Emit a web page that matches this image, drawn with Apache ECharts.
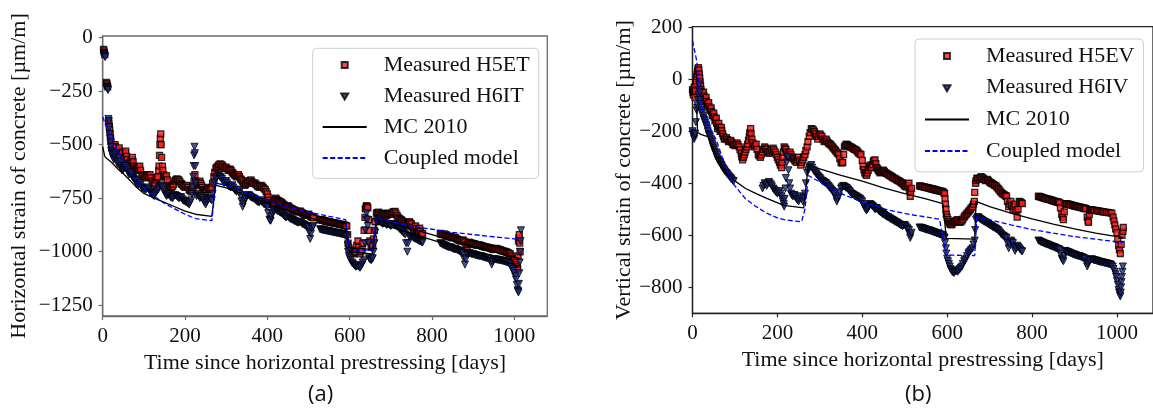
<!DOCTYPE html>
<html><head><meta charset="utf-8">
<script src="https://cdn.jsdelivr.net/npm/echarts@6/dist/echarts.min.js"></script>
<style>html,body{margin:0;padding:0;background:#fff}#c{width:1153px;height:416px}</style>
</head><body><div id="c"></div>
<script>
// ---------- (a) horizontal strain ----------
const xTicksA = [0, 200, 400, 600, 800, 1000];
const yTicksA = [-1250, -1000, -750, -500, -250, 0];
const h5et = [[2,-55],[3,-62],[4,-70],[5,-80],[9,-210],[10,-215],[11,-222],[12,-230],
[14,-390],[15,-400],[16,-415],[17,-430],[18,-450],[19,-470],[20,-485],[21,-500],[22,-510],[23,-505],[24,-520],[25,-530],[27,-540],[28,-525],[30,-500],[31,-510],[33,-530],[34,-545],[36,-560],[37,-545],[39,-525],[40,-515],[42,-540],[44,-560],[45,-550],[47,-535],[48,-540],[50,-565],[52,-580],[53,-560],[55,-540],[56,-530],[58,-555],[60,-570],[62,-590],[64,-600],[66,-585],[68,-580],[70,-570],[72,-560],[74,-580],[76,-600],[78,-610],[80,-620],[82,-615],[85,-610],[87,-605],[90,-600],[92,-620],[95,-640],[97,-645],[100,-645],[102,-655],[105,-650],[107,-640],[110,-645],[112,-650],[115,-640],[117,-655],[120,-670],[122,-680],[125,-690],[127,-680],[130,-665],[132,-655],[134,-650],[136,-620],[137,-600],[138,-550],[139,-500],[140,-470],[141,-450],[142,-500],[143,-560],[145,-600],[146,-620],[148,-640],[150,-650],[152,-650],[155,-645],[157,-665],[160,-690],[162,-695],[165,-700],[167,-700],[170,-695],[172,-685],[175,-670],[177,-665],[180,-660],[182,-662],[185,-665],[187,-672],[190,-680],[192,-685],[195,-690],[197,-695],[200,-700],[202,-695],[205,-690],[207,-700],[210,-710],[212,-715],[215,-720],[217,-710],[220,-700],[222,-670],[224,-640],[226,-670],[228,-690],[230,-685],[232,-680],[234,-675],[236,-670],[238,-680],[240,-690],[242,-700],[245,-710],[247,-715],[250,-720],[252,-710],[255,-700],[257,-705],[260,-710],[262,-705],[265,-700],[267,-680],[270,-650],[272,-630],[275,-610],[277,-605],[280,-600],[282,-595],[285,-590],[287,-592],[290,-595],[292,-602],[295,-610],[297,-608],[300,-605],[302,-612],[305,-620],[307,-618],[310,-615],[312,-622],[315,-630],[317,-635],[320,-640],[322,-645],[325,-650],[327,-645],[330,-640],[332,-650],[335,-660],[337,-665],[340,-670],[342,-680],[345,-690],[347,-685],[350,-680],[352,-675],[355,-670],[357,-668],[360,-665],[362,-672],[365,-680],[367,-680],[370,-680],[372,-685],[375,-690],[377,-695],[380,-700],[382,-695],[385,-690],[387,-695],[390,-700],[392,-705],[395,-710],[397,-720],[400,-730],[402,-745],[405,-760],[407,-770],[410,-780],[412,-775],[415,-770],[417,-760],[420,-750],[422,-755],[425,-760],[427,-762],[430,-765],[432,-768],[435,-770],[437,-775],[440,-780],[442,-785],[445,-790],[447,-788],[450,-785],[452,-790],[455,-795],[457,-798],[460,-800],[462,-803],[465,-805],[467,-808],[470,-810],[472,-812],[475,-815],[477,-812],[480,-810],[482,-815],[485,-820],[487,-822],[490,-825],[492,-828],[495,-830],[497,-828],[500,-825],[502,-830],[505,-835],[507,-838],[510,-840],[512,-842],
[528,-850],[530,-851],[533,-852],[535,-853],[538,-855],[540,-856],[543,-858],[545,-859],[548,-860],[550,-861],[553,-862],[555,-863],[558,-864],[560,-865],[563,-866],[565,-867],[568,-868],[570,-869],[573,-870],[575,-871],[578,-872],[580,-873],[583,-874],[585,-875],[588,-876],[590,-878],[593,-880],[595,-920],[596,-960],[598,-980],[600,-990],[602,-995],[605,-1000],[607,-1005],[610,-1010],[612,-1005],[615,-1000],[617,-970],[620,-950],[622,-980],[625,-1010],[627,-1000],[630,-990],[632,-960],[635,-900],[637,-840],[638,-800],[640,-790],[641,-785],[643,-790],[644,-795],[646,-850],[647,-900],[649,-950],[652,-980],[654,-975],[656,-970],[658,-940],[660,-900],[662,-860],[665,-820],[667,-818],[670,-815],[672,-822],[675,-830],[677,-825],[680,-820],[682,-822],[685,-825],[687,-828],[690,-830],[692,-825],[695,-820],[697,-822],[700,-825],[702,-820],[705,-815],[707,-813],[710,-812],[712,-820],[715,-830],[717,-838],[720,-845],[722,-848],[725,-850],[727,-855],[730,-860],[732,-865],[735,-870],[737,-875],[740,-880],[742,-870],[745,-860],[747,-865],[750,-870],[752,-885],[755,-900],[757,-890],[760,-880],[762,-892],[765,-905],[767,-898],[770,-890],[772,-905],[775,-920],[777,-915],
[820,-915],[822,-918],[825,-920],[827,-919],[830,-918],[832,-922],[835,-925],[837,-927],[840,-928],[842,-929],[845,-930],[847,-933],[850,-935],[852,-934],[855,-932],[857,-936],[860,-940],[862,-943],[865,-945],[867,-948],[870,-950],[872,-948],[875,-945],[877,-950],[880,-955],[882,-968],[885,-980],[887,-965],[890,-955],[892,-958],[895,-960],[897,-961],[900,-962],[902,-964],[905,-965],[907,-968],[910,-970],[912,-969],[915,-968],[917,-970],[920,-972],[922,-974],[925,-975],[927,-977],[930,-978],[932,-979],[935,-980],[937,-981],[940,-982],[942,-984],[945,-985],[947,-988],[950,-990],[952,-988],[955,-985],[957,-987],[960,-988],[962,-989],[965,-990],[967,-993],[970,-995],[972,-997],[975,-998],[977,-999],[980,-1000],[982,-1003],[985,-1005],[987,-1008],[990,-1010],[992,-1020],[995,-1030],[997,-1035],[1000,-1040],[1002,-1050],[1005,-1060],[1007,-1070],[1008,-1080],[1009,-1020],[1010,-950],[1011,-935],[1012,-920],[1013,-960],[1014,-1000]];
const h6it = [[3,-75],[4,-80],[5,-85],[6,-92],[10,-232],[11,-235],[12,-240],[13,-245],
[14,-380],[15,-390],[16,-420],[17,-450],[18,-470],[19,-490],[20,-510],[21,-530],[22,-540],[23,-545],[24,-550],[25,-560],[27,-570],[28,-555],[30,-540],[31,-550],[33,-560],[34,-575],[36,-590],[37,-580],[39,-565],[40,-560],[42,-580],[44,-600],[45,-610],[47,-620],[48,-620],[50,-615],[52,-610],[53,-605],[55,-600],[56,-600],[58,-610],[60,-620],[62,-630],[64,-640],[66,-635],[68,-630],[70,-640],[72,-650],[74,-655],[76,-660],[78,-665],[80,-670],[82,-680],[85,-690],[87,-685],[90,-680],[92,-690],[95,-700],[97,-702],[100,-705],[102,-708],[105,-710],[107,-705],[110,-700],[112,-710],[115,-720],[117,-725],[120,-730],[122,-735],[125,-740],[127,-730],[130,-720],[132,-715],[135,-710],[137,-700],[140,-690],[142,-695],[145,-700],[147,-710],[150,-720],[152,-730],[155,-740],[157,-735],[160,-730],[162,-738],[165,-745],[167,-748],[170,-750],[172,-742],[175,-735],[177,-738],[180,-740],[182,-745],[185,-750],[187,-748],[190,-745],[192,-752],[195,-760],[197,-762],[200,-765],[202,-768],[205,-770],[207,-775],[210,-780],[212,-770],[215,-760],[217,-730],[218,-700],[220,-650],[221,-600],[222,-550],[223,-510],[224,-540],[225,-600],[226,-680],[228,-740],[230,-735],[232,-730],[234,-740],[236,-750],[238,-745],[240,-740],[242,-750],[245,-760],[247,-770],[250,-780],[252,-770],[255,-760],[257,-755],[260,-750],[262,-755],[265,-760],[267,-730],[270,-690],[272,-675],[275,-660],[277,-650],[280,-640],[282,-645],[285,-650],[287,-655],[290,-660],[292,-670],[295,-680],[297,-675],[300,-670],[302,-680],[305,-690],[307,-695],[310,-700],[312,-695],[315,-690],[317,-700],[320,-710],[322,-715],[325,-720],[327,-715],[330,-710],[332,-725],[335,-740],[337,-765],[340,-790],[342,-775],[345,-760],[347,-750],[350,-740],[352,-738],[355,-735],[357,-740],[360,-745],[362,-748],[365,-750],[367,-752],[370,-755],[372,-760],[375,-765],[377,-768],[380,-770],[382,-765],[385,-760],[387,-768],[390,-775],[392,-778],[395,-780],[397,-785],[400,-790],[402,-820],[405,-850],[407,-855],[408,-855],[410,-835],[412,-820],[415,-810],[417,-805],[420,-800],[422,-805],[425,-810],[427,-812],[430,-815],[432,-818],[435,-820],[437,-825],[440,-830],[442,-835],[445,-840],[447,-838],[450,-835],[452,-840],[455,-845],[457,-848],[460,-850],[462,-852],[465,-855],[467,-858],[470,-860],[472,-862],[475,-865],[477,-862],[480,-860],[482,-865],[485,-870],[487,-872],[490,-875],[492,-878],[495,-880],[497,-882],[500,-885],[502,-910],[504,-940],[506,-915],[508,-890],[510,-885],[512,-880],
[528,-895],[530,-896],[533,-898],[535,-899],[538,-900],[540,-901],[543,-902],[545,-903],[548,-904],[550,-905],[553,-906],[555,-907],[558,-908],[560,-909],[563,-910],[565,-911],[568,-912],[570,-913],[573,-914],[575,-915],[578,-916],[580,-917],[583,-918],[585,-919],[588,-920],[590,-925],[593,-930],[595,-970],[596,-1000],[598,-1020],[600,-1030],[602,-1040],[605,-1050],[607,-1055],[610,-1060],[612,-1065],[615,-1070],[617,-1068],[620,-1065],[622,-1070],[625,-1075],[627,-1068],[630,-1060],[632,-1050],[635,-1040],[637,-960],[638,-900],[640,-850],[641,-820],[643,-850],[644,-880],[646,-960],[647,-1030],[649,-1035],[652,-1040],[654,-1035],[656,-1030],[658,-1000],[660,-960],[662,-910],[665,-860],[667,-855],[670,-850],[672,-855],[675,-860],[677,-865],[680,-870],[682,-868],[685,-865],[687,-870],[690,-875],[692,-872],[695,-870],[697,-875],[700,-880],[702,-875],[705,-870],[707,-872],[710,-875],[712,-878],[715,-880],[717,-885],[720,-890],[722,-895],[725,-900],[727,-905],[730,-910],[732,-915],[735,-920],[737,-960],[740,-1000],[742,-960],[745,-930],[747,-928],[750,-925],[752,-930],[755,-935],[757,-938],[760,-940],[762,-942],[765,-945],[767,-948],[770,-950],[772,-952],[775,-955],[777,-957],
[820,-960],[822,-962],[825,-965],[827,-968],[830,-970],[832,-972],[835,-975],[837,-977],[840,-978],[842,-979],[845,-980],[847,-982],[850,-985],[852,-987],[855,-988],[857,-989],[860,-990],[862,-992],[865,-995],[867,-998],[870,-1000],[872,-1002],[875,-1005],[877,-1030],[880,-1060],[882,-1035],[885,-1010],[887,-1008],[890,-1005],[892,-1008],[895,-1010],[897,-1011],[900,-1012],[902,-1013],[905,-1015],[907,-1017],[910,-1018],[912,-1019],[915,-1020],[917,-1021],[920,-1022],[922,-1023],[925,-1025],[927,-1027],[930,-1028],[932,-1029],[935,-1030],[937,-1031],[940,-1032],[942,-1045],[945,-1060],[947,-1045],[950,-1035],[952,-1035],[955,-1036],[957,-1037],[960,-1038],[962,-1039],[965,-1040],[967,-1041],[970,-1042],[972,-1043],[975,-1045],[977,-1046],[980,-1048],[982,-1049],[985,-1050],[987,-1055],[990,-1060],[992,-1070],[995,-1080],[997,-1090],[1000,-1100],[1002,-1115],[1004,-1130],[1006,-1155],[1008,-1180],[1009,-1185],[1010,-1190],[1011,-1150],[1012,-1100],[1013,-1050],[1014,-1000],[1015,-950],[1016,-900]];
const mcA1 = [[0,-510],[5,-555],[10,-565],[20,-580],[30,-600],[40,-620],[50,-635],[60,-655],[70,-675],[80,-695],[90,-712],[100,-728],[125,-750],[150,-770],[175,-790],[200,-810],[225,-825],[265,-835],[275,-680],[300,-690],[350,-725],[400,-760],[450,-790],[500,-820],[550,-848],[590,-870],[600,-980],[655,-990],[665,-850],[700,-865],[750,-893],[800,-920],[850,-948],[900,-975],[950,-1000],[1000,-1025],[1012,-1030]];
const mcA2 = [[275,-690],[300,-702],[350,-740],[400,-775],[450,-808],[500,-840],[550,-870],[590,-895],[600,-1000],[655,-1010],[665,-870],[700,-885],[750,-915],[800,-945],[850,-975],[900,-1005],[950,-1033],[1000,-1060],[1012,-1075]];
const cpA = [[0,-370],[5,-400],[10,-420],[20,-460],[30,-500],[40,-540],[50,-580],[60,-610],[70,-640],[80,-665],[90,-688],[100,-705],[125,-740],[150,-775],[175,-800],[200,-825],[225,-845],[265,-855],[275,-680],[300,-690],[350,-725],[400,-760],[450,-790],[500,-815],[550,-835],[590,-850],[600,-990],[655,-995],[665,-845],[700,-860],[750,-880],[800,-895],[850,-910],[900,-920],[950,-930],[1000,-940],[1010,-942]];

// ---------- (b) vertical strain ----------
const xTicksB = [0, 200, 400, 600, 800, 1000];
const yTicksB = [-800, -600, -400, -200, 0, 200];
const h5ev = [[0,-40],[1,-50],[2,-60],[3,-45],[4,-30],[5,-50],[6,-70],[7,-45],[8,-20],[9,-5],[10,10],[11,20],[12,30],[13,40],[14,45],[15,35],[16,20],[17,5],[18,-10],[19,-25],[20,-40],[21,-50],[23,-60],[24,-55],[26,-50],[27,-65],[29,-80],[30,-75],[32,-70],[33,-85],[35,-100],[36,-95],[38,-90],[39,-105],[41,-120],[42,-115],[44,-110],[45,-125],[47,-140],[48,-135],[50,-130],[51,-145],[53,-160],[54,-155],[56,-150],[57,-170],[59,-190],[60,-180],[62,-170],[63,-185],[65,-200],[66,-192],[68,-185],[69,-198],[71,-210],[73,-220],[75,-230],[77,-228],[80,-225],[82,-232],[85,-240],[87,-238],[90,-235],[92,-242],[95,-250],[97,-252],[100,-255],[102,-250],[105,-245],[107,-252],[110,-260],[112,-272],[115,-285],[116,-298],[118,-310],[120,-300],[122,-290],[124,-280],[126,-270],[128,-260],[130,-250],[132,-235],[134,-220],[135,-205],[137,-190],[138,-210],[140,-230],[142,-245],[145,-260],[147,-255],[150,-250],[152,-270],[155,-290],[157,-295],[160,-300],[162,-290],[165,-280],[167,-270],[170,-260],[172,-265],[175,-270],[177,-278],[180,-285],[182,-280],[185,-275],[187,-270],[190,-265],[192,-272],[195,-280],[197,-290],[200,-300],[202,-310],[205,-320],[207,-330],[210,-340],[211,-320],[213,-300],[214,-280],[216,-260],[218,-265],[220,-270],[222,-280],[225,-290],[227,-285],[230,-280],[232,-290],[235,-300],[237,-305],[240,-310],[242,-315],[245,-320],[247,-310],[250,-300],[252,-315],[255,-330],[257,-320],[260,-310],[262,-300],[265,-290],[267,-275],[270,-260],[272,-240],[275,-220],[277,-205],[280,-190],[282,-192],[285,-195],[287,-202],[290,-210],[292,-220],[295,-230],[297,-220],[300,-210],[302,-215],[305,-220],[307,-230],[310,-240],[312,-235],[315,-230],[317,-238],[320,-245],[322,-248],[325,-250],[327,-255],[330,-260],[332,-265],[335,-270],[337,-275],[340,-280],[342,-285],[345,-290],[347,-305],[350,-320],[352,-322],[354,-320],[356,-290],[358,-260],[360,-255],[362,-250],[365,-252],[367,-255],[370,-258],[372,-260],[375,-262],[377,-265],[380,-268],[382,-270],[385,-272],[387,-275],[390,-280],[392,-285],[395,-288],[397,-290],[400,-312],[402,-335],[404,-348],[406,-360],[408,-365],[410,-370],[412,-360],[414,-350],[416,-340],[418,-330],[420,-335],[422,-340],[424,-328],[426,-315],[428,-312],[430,-310],[432,-325],[434,-340],[436,-345],[438,-350],[440,-355],[442,-360],[444,-358],[446,-355],[448,-352],[450,-350],[452,-355],[455,-360],[457,-362],[460,-365],[462,-368],[465,-370],[467,-372],[470,-375],[472,-378],[475,-380],[477,-382],[480,-385],[482,-388],[485,-390],[487,-392],[490,-395],[492,-398],[495,-400],[497,-405],[500,-410],[502,-412],[505,-415],[507,-408],[510,-400],[511,-425],[513,-450],[514,-435],[516,-420],
[535,-410],[537,-411],[540,-412],[542,-413],[545,-414],[547,-415],[550,-416],[552,-417],[555,-418],[557,-419],[560,-420],[562,-421],[565,-422],[567,-423],[570,-424],[572,-425],[575,-426],[577,-427],[580,-428],[582,-429],[585,-430],[587,-431],[590,-432],[592,-436],[594,-440],[595,-460],[596,-480],[597,-500],[598,-520],[600,-530],[602,-540],[604,-548],[606,-555],[608,-558],[610,-560],[612,-556],[615,-550],[617,-548],[620,-545],[622,-542],[625,-540],[627,-545],[630,-550],[632,-548],[635,-545],[637,-538],[640,-530],[642,-525],[645,-520],[647,-515],[650,-510],[652,-505],[655,-500],[657,-495],[660,-490],[662,-480],[664,-470],[665,-435],[667,-400],[668,-390],[670,-380],[672,-382],[675,-385],[677,-380],[680,-375],[682,-378],[685,-380],[687,-385],[690,-390],[692,-388],[695,-385],[697,-390],[700,-395],[702,-398],[705,-400],[707,-402],[710,-405],[712,-408],[715,-410],[717,-415],[720,-420],[722,-425],[725,-430],[727,-435],[730,-440],[732,-442],[735,-445],[737,-448],[740,-450],[742,-470],[745,-490],[747,-480],[750,-470],[752,-485],[755,-500],[757,-490],[760,-480],[762,-505],[765,-530],[767,-500],[770,-470],[772,-472],[775,-475],[777,-478],
[815,-450],[817,-451],[820,-452],[822,-453],[825,-455],[827,-456],[830,-458],[832,-459],[835,-460],[837,-461],[840,-462],[842,-463],[845,-465],[847,-466],[850,-468],[852,-469],[855,-470],[857,-471],[860,-472],[862,-473],[865,-475],[867,-495],[870,-520],[872,-530],[874,-540],[876,-510],[878,-478],[880,-479],[882,-479],[885,-480],[887,-481],[890,-482],[892,-483],[895,-485],[897,-486],[900,-487],[902,-488],[905,-489],[907,-490],[910,-491],[912,-492],[915,-493],[917,-494],[920,-495],[922,-496],[925,-497],[927,-498],[930,-530],[932,-545],[933,-550],[935,-520],[936,-501],[938,-502],[940,-503],[942,-503],[945,-504],[948,-504],[952,-505],[955,-506],[958,-507],[962,-508],[965,-509],[968,-510],[972,-511],[976,-512],[980,-513],[984,-514],[988,-515],[991,-530],[993,-545],[995,-560],[997,-575],[1000,-590],[1002,-615],[1004,-640],[1006,-655],[1008,-670],[1010,-635],[1012,-600],[1014,-585],[1015,-570]];
const h6iv = [[0,-200],[1,-208],[2,-215],[3,-222],[4,-230],[5,-220],[6,-210],[8,-165],[10,-120],[11,-110],[12,-100],[13,-80],[14,-60],[15,-40],[16,-20],[17,-50],[18,-80],[19,-95],[20,-110],[21,-120],[23,-130],[24,-140],[26,-150],[27,-155],[29,-160],[30,-168],[32,-175],[33,-182],[35,-190],[36,-200],[38,-210],[39,-215],[41,-220],[42,-228],[44,-235],[45,-242],[47,-250],[48,-258],[50,-265],[51,-272],[53,-280],[54,-285],[56,-290],[57,-298],[59,-305],[60,-310],[62,-315],[63,-318],[65,-320],[66,-325],[68,-330],[69,-335],[71,-340],[73,-345],[75,-350],[77,-355],[80,-360],[82,-365],[85,-370],[87,-375],[90,-380],[92,-385],[95,-390],[97,-392],
[165,-420],[167,-410],[170,-400],[172,-405],[175,-410],[177,-402],[180,-395],[182,-400],[185,-405],[187,-412],[190,-420],[192,-425],[195,-430],[197,-435],[200,-440],[202,-435],[205,-430],[207,-440],[210,-450],[212,-460],[213,-470],[215,-480],[216,-490],[217,-460],[219,-420],[220,-380],[222,-320],[223,-300],[225,-300],[226,-350],[228,-400],[230,-420],[232,-440],[234,-445],[236,-450],[238,-448],[240,-445],[242,-452],[245,-460],[247,-465],[250,-470],[252,-460],[255,-450],[257,-460],[260,-470],[262,-455],[265,-440],[267,-400],[270,-360],[272,-350],[275,-340],[277,-335],[280,-330],[282,-340],[285,-350],[287,-355],[290,-360],[292,-365],[295,-370],[297,-375],[300,-380],[302,-385],[305,-390],[307,-392],[310,-395],[312,-398],[315,-400],[317,-405],[320,-410],[322,-415],[325,-420],[327,-425],[330,-430],[332,-435],[335,-440],[337,-455],[340,-470],[342,-460],[345,-450],[347,-435],[350,-420],[352,-415],[355,-410],[357,-412],[360,-415],[362,-418],[365,-420],[367,-425],[370,-430],[372,-435],[375,-440],[377,-442],[380,-445],[382,-448],[385,-450],[387,-452],[390,-455],[392,-458],[395,-460],[397,-465],[400,-470],[402,-480],[405,-490],[407,-498],[410,-505],[412,-500],[414,-495],[416,-488],[418,-480],[420,-482],[422,-485],[424,-488],[426,-490],[428,-495],[430,-500],[432,-498],[434,-495],[436,-500],[438,-505],[440,-508],[442,-510],[444,-512],[446,-515],[448,-518],[450,-520],[452,-522],[455,-525],[457,-528],[460,-530],[462,-532],[465,-535],[467,-538],[470,-540],[472,-542],[475,-545],[477,-548],[480,-550],[482,-552],[485,-555],[487,-558],[490,-560],[492,-562],[495,-565],[497,-562],[500,-560],[502,-565],[505,-570],[507,-575],[510,-580],[511,-595],[513,-610],[514,-600],[516,-590],
[535,-570],[537,-571],[540,-572],[542,-573],[545,-575],[547,-576],[550,-578],[552,-579],[555,-580],[557,-581],[560,-583],[562,-584],[565,-586],[567,-587],[570,-589],[572,-590],[575,-592],[577,-593],[580,-595],[582,-596],[585,-598],[587,-599],[590,-600],[592,-605],[594,-610],[595,-630],[597,-650],[598,-670],[600,-690],[602,-700],[604,-710],[606,-720],[608,-730],[610,-735],[612,-740],[614,-742],[616,-745],[618,-740],[620,-735],[622,-738],[625,-740],[627,-735],[630,-730],[632,-725],[635,-720],[637,-710],[640,-700],[642,-695],[645,-690],[647,-680],[650,-670],[652,-665],[655,-660],[657,-655],[660,-650],[662,-635],[665,-620],[666,-580],[668,-540],[670,-535],[672,-530],[674,-532],[676,-535],[678,-538],[680,-540],[682,-542],[685,-545],[687,-548],[690,-550],[692,-552],[695,-555],[697,-558],[700,-560],[702,-562],[705,-565],[707,-568],[710,-570],[712,-572],[715,-575],[717,-578],[720,-580],[722,-585],[725,-590],[727,-595],[730,-600],[732,-602],[735,-605],[737,-608],[740,-610],[742,-630],[745,-650],[747,-635],[750,-620],[752,-625],[755,-630],[757,-645],[760,-660],[762,-650],[765,-640],[767,-645],[770,-650],[772,-655],[775,-660],[777,-662],
[815,-620],[817,-622],[820,-625],[822,-626],[825,-628],[827,-630],[830,-632],[832,-633],[835,-635],[837,-636],[840,-638],[842,-640],[845,-642],[847,-643],[850,-645],[852,-646],[855,-648],[857,-650],[860,-652],[862,-653],[865,-655],[867,-672],[870,-690],[872,-695],[874,-700],[876,-680],[878,-660],[880,-662],[882,-663],[885,-665],[887,-666],[890,-668],[892,-670],[895,-672],[897,-673],[900,-675],[902,-676],[905,-678],[907,-679],[910,-680],[912,-681],[915,-683],[917,-684],[920,-686],[922,-688],[925,-690],[927,-705],[930,-720],[932,-710],[934,-700],[936,-695],[940,-692],[942,-693],[945,-695],[947,-696],[950,-697],[952,-698],[955,-700],[957,-701],[960,-702],[962,-703],[965,-704],[967,-705],[970,-706],[972,-707],[975,-708],[977,-709],[980,-710],[982,-711],[985,-712],[987,-716],[990,-720],[992,-730],[995,-740],[997,-750],[998,-760],[1000,-775],[1002,-790],[1004,-810],[1005,-820],[1007,-830],[1008,-835],[1009,-820],[1010,-800],[1011,-780],[1012,-760],[1013,-740],[1014,-720]];
const mcB = [[10,-115],[12,-205],[20,-212],[37,-222],[50,-270],[60,-305],[70,-335],[80,-355],[95,-385],[125,-420],[150,-440],[175,-458],[215,-485],[262,-495],[273,-328],[300,-345],[350,-370],[400,-392],[450,-418],[500,-440],[550,-460],[590,-478],[598,-612],[665,-615],[668,-470],[700,-490],[750,-515],[800,-537],[850,-557],[900,-575],[950,-592],[1000,-605],[1015,-608]];
const cpB = [[0,148],[5,110],[10,70],[14,10],[17,-80],[25,-120],[35,-160],[45,-200],[56,-233],[70,-300],[80,-345],[95,-400],[110,-430],[125,-460],[150,-490],[175,-515],[200,-533],[219,-541],[257,-548],[265,-500],[273,-370],[300,-395],[320,-413],[350,-440],[400,-472],[460,-503],[520,-522],[582,-538],[598,-676],[665,-678],[670,-528],[700,-540],[750,-560],[800,-578],[850,-592],[900,-605],[950,-615],[1000,-625],[1015,-628]];

const serif = 'Liberation Serif';
const minus = v => String(v).replace('-', '\u2212');
function common(color, ticks) {
  return {
    nameTextStyle:{color:'#111'},
    axisLine:{show:true, onZero:false, lineStyle:{color:color, width:1.3}},
    axisTick:{show:true, inside:false, length:4, customValues:ticks, lineStyle:{color:color, width:1.2}},
    axisLabel:{customValues:ticks, formatter:minus, margin:10, fontFamily:serif, fontSize:21, color:'#111'},
    splitLine:{show:false}};
}
function xAx(grid, max, ticks, color, gap) {
  return Object.assign({type:'value', gridIndex:grid, min:0, max:max,
    name:'Time since horizontal prestressing [days]', nameLocation:'middle', nameGap:gap}, common(color, ticks));
}
function yAx(grid, min, max, ticks, color, name, gap) {
  return Object.assign({type:'value', gridIndex:grid, min:min, max:max,
    name:name, nameLocation:'middle', nameGap:gap}, common(color, ticks));
}
const sqStyle = {color:'#ff1a1a', borderColor:'#000', borderWidth:1.3};
const trStyle = {color:'#1c2a80', borderColor:'#000', borderWidth:1};
function sq(name, data, g) { return {name, type:'scatter', xAxisIndex:g, yAxisIndex:g, data, symbol:'rect', symbolSize:6, itemStyle:sqStyle, z:2, animation:false}; }
function tr(name, data, g) { return {name, type:'scatter', xAxisIndex:g, yAxisIndex:g, data, symbol:'triangle', symbolRotate:180, symbolSize:7, itemStyle:trStyle, z:3, animation:false}; }
function ln(name, data, g, color, type) { return {name, type:'line', xAxisIndex:g, yAxisIndex:g, data, symbol:'none', showSymbol:false, lineStyle:{color, width:1.3, type}, itemStyle:{color}, z:4, animation:false}; }
const sqIcon = 'path://M0,0M44,0M44,12M0,12M19,3h6v6h-6z';
const trIcon = 'path://M0,0M44,0M44,12M0,12M18.5,3.5h7l-3.5,6z';
function legend(left, top, names, pad, gap) {
  return {left, top, orient:'vertical', itemWidth:44, itemHeight:12, itemGap:gap,
    padding:pad, backgroundColor:'rgba(255,255,255,0.85)', borderColor:'#cfcfcf', borderWidth:1, borderRadius:4,
    textStyle:{fontFamily:serif, fontSize:22, color:'#111', lineHeight:22, padding:[0,0,0,12]},
    data:[{name:names[0], icon:sqIcon}, {name:names[1], icon:trIcon},
          {name:names[2], itemStyle:{opacity:0}}, {name:names[3], itemStyle:{opacity:0}}]};
}
const chart = echarts.init(document.getElementById('c'), null, {renderer:'canvas'});
chart.setOption({
  backgroundColor:'#fff', animation:false,
  textStyle:{fontFamily:serif, fontSize:22, color:'#111'},
  title:[
    {text:'(a)', left:308, top:384, padding:0, textStyle:{fontFamily:'Open Sans', fontSize:22, fontWeight:'normal', color:'#111'}},
    {text:'(b)', left:905, top:384, padding:0, textStyle:{fontFamily:'Open Sans', fontSize:22, fontWeight:'normal', color:'#111'}}
  ],
  grid:[
    {left:102.7, top:36, width:444.6, height:280, show:true, borderColor:'#6a6a6a', borderWidth:1.3, containLabel:false},
    {left:692.5, top:26.7, width:467.5, height:286.6, show:true, borderColor:'#222', borderWidth:1.3, containLabel:false}
  ],
  xAxis:[xAx(0, 1080, xTicksA, '#6a6a6a', 27), xAx(1, 1085, xTicksB, '#222', 29)],
  yAxis:[yAx(0, -1300, 7, yTicksA, '#6a6a6a', 'Horizontal strain of concrete [µm/m]', 72),
         yAx(1, -900, 202, yTicksB, '#222', 'Vertical strain of concrete [µm/m]', 54)],
  legend:[legend(312.7, 48.3, ['Measured H5ET','Measured H6IT','MC 2010','Coupled model'], [5.7,9,9.4,9], 9),
          legend(915, 39, ['Measured H5EV','Measured H6IV','MC 2010','Coupled model'], [6,9,9.7,9], 9.7)],
  series:[
    sq('Measured H5ET', h5et, 0), tr('Measured H6IT', h6it, 0),
    ln('MC 2010', mcA1, 0, '#000', 'solid'), ln('MC 2010', mcA2, 0, '#000', 'solid'),
    ln('Coupled model', cpA, 0, '#0000ff', [5,2.5]),
    sq('Measured H5EV', h5ev, 1), tr('Measured H6IV', h6iv, 1),
    ln('MC 2010', mcB, 1, '#000', 'solid'),
    ln('Coupled model', cpB, 1, '#0000ff', [5,2.5])
  ]
});
</script></body></html>
